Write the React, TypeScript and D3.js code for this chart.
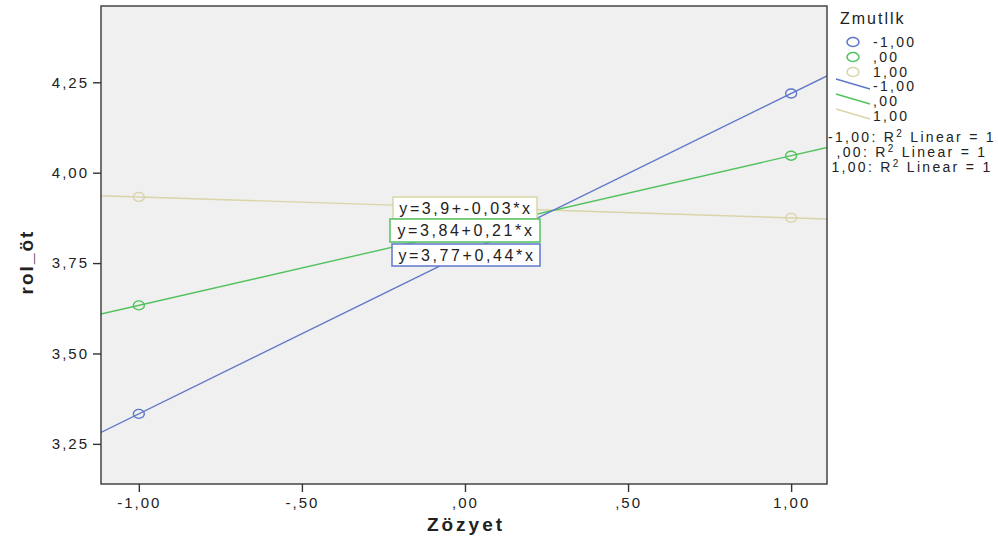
import React, { useEffect, useRef } from "react";
import * as d3 from "d3";

// group values of Zmutllk
const groups = ["-1,00", ",00", "1,00"];
const groupColors = ["#5f77c9", "#52c25e", "#d9d5a8"];
// observed means at Zözyet = -1 and 1
const xValues = [-1, 1];
const bluePoints = [3.333, 4.219];
const greenPoints = [3.633, 4.047];
const yellowPoints = [3.933, 3.875];
// fit lines (intercept, slope)
const intercepts = [3.776, 3.84, 3.904];
const slopes = [0.443, 0.207, -0.029];
const equations = ["y=3,77+0,44*x", "y=3,84+0,21*x", "y=3,9+-0,03*x"];
const xTicks = [-1, -0.5, 0, 0.5, 1];
const xTickLabels = ["-1,00", "-,50", ",00", ",50", "1,00"];
const yTicks = [3.25, 3.5, 3.75, 4.0, 4.25];
const yTickLabels = ["3,25", "3,50", "3,75", "4,00", "4,25"];

function App() {
  const svgRef = useRef<SVGSVGElement>(null);

  useEffect(() => {
    const W = 998;
    const H = 538;
    const left = 101, right = 827, top = 6, bottom = 484;
    const font = "Arial, 'Liberation Sans', sans-serif";

    const svg = d3.select(svgRef.current).attr("width", W).attr("height", H);
    svg.selectAll("*").remove();

    const x = d3.scaleLinear().domain([-1.116, 1.11]).range([left, right]);
    const y = d3.scaleLinear().domain([3.139, 4.461]).range([bottom, top]);

    svg.append("rect").attr("width", W).attr("height", H).attr("fill", "#fff");
    svg.append("rect")
      .attr("x", left).attr("y", top)
      .attr("width", right - left).attr("height", bottom - top)
      .attr("fill", "#f0f0f0");

    const plot = svg.append("g");
    plot.append("clipPath").attr("id", "clip")
      .append("rect").attr("x", left).attr("y", top)
      .attr("width", right - left).attr("height", bottom - top);

    const allPoints = [bluePoints, greenPoints, yellowPoints];
    const lines = plot.append("g").attr("clip-path", "url(#clip)");
    // draw fit lines, yellow first so blue is on top
    [2, 1, 0].forEach((i) => {
      const [x0, x1] = x.domain();
      lines.append("line")
        .attr("x1", x(x0)).attr("y1", y(intercepts[i] + slopes[i] * x0))
        .attr("x2", x(x1)).attr("y2", y(intercepts[i] + slopes[i] * x1))
        .attr("stroke", groupColors[i]).attr("stroke-width", 1.4);
      lines.selectAll(null)
        .data(xValues.map((v, k) => [v, allPoints[i][k]]))
        .join("ellipse")
        .attr("cx", (d) => x(d[0])).attr("cy", (d) => y(d[1]))
        .attr("rx", 5.5).attr("ry", 4.5)
        .attr("fill", "none").attr("stroke", groupColors[i]).attr("stroke-width", 1.4);
    });

    // frame
    svg.append("rect")
      .attr("x", left).attr("y", top)
      .attr("width", right - left).attr("height", bottom - top)
      .attr("fill", "none").attr("stroke", "#444").attr("stroke-width", 1.5);

    // axes
    const yAxis = svg.append("g").attr("transform", `translate(${left},0)`)
      .call(d3.axisLeft(y).tickValues(yTicks).tickSize(8).tickPadding(4)
        .tickFormat((d, i) => yTickLabels[i]));
    const xAxis = svg.append("g").attr("transform", `translate(0,${bottom})`)
      .call(d3.axisBottom(x).tickValues(xTicks).tickSize(8).tickPadding(5)
        .tickFormat((d, i) => xTickLabels[i]));
    [yAxis, xAxis].forEach((a) => {
      a.select(".domain").remove();
      a.selectAll("line").attr("stroke", "#333").attr("stroke-width", 1.4);
      a.selectAll("text").attr("fill", "#222").attr("font-family", font)
        .attr("font-size", 15).attr("letter-spacing", 2);
    });

    svg.append("text")
      .attr("x", (left + right) / 2 + 2).attr("y", 531)
      .attr("text-anchor", "middle").attr("font-family", font)
      .attr("font-weight", "bold").attr("font-size", 19).attr("letter-spacing", 3)
      .attr("fill", "#222")
      .text("Zözyet");
    svg.append("text")
      .attr("transform", "translate(33,262) rotate(-90)")
      .attr("text-anchor", "middle").attr("font-family", font)
      .attr("font-weight", "bold").attr("font-size", 19).attr("letter-spacing", 2)
      .attr("fill", "#222")
      .text("rol_öt");

    // equation labels
    const boxes = [
      { i: 2, x0: 393, y0: 197, w: 144, h: 22 },
      { i: 1, x0: 390, y0: 219, w: 150, h: 23 },
      { i: 0, x0: 392, y0: 244, w: 148, h: 22 },
    ];
    boxes.forEach((b) => {
      svg.append("rect")
        .attr("x", b.x0).attr("y", b.y0).attr("width", b.w).attr("height", b.h)
        .attr("fill", "#fff").attr("stroke", groupColors[b.i]).attr("stroke-width", 1.5);
      svg.append("text")
        .attr("x", b.x0 + b.w / 2 + 1).attr("y", b.y0 + b.h / 2 + 5.5)
        .attr("text-anchor", "middle").attr("font-family", font)
        .attr("font-size", 16).attr("letter-spacing", 2.6).attr("fill", "#222")
        .text(equations[b.i]);
    });

    // legend
    const lg = svg.append("g").attr("font-family", font).attr("font-size", 14)
      .attr("letter-spacing", 2.3).attr("fill", "#222");
    lg.append("text").attr("x", 840).attr("y", 24).attr("font-size", 16).attr("letter-spacing", 2)
      .text("Zmutllk");
    groups.forEach((g, i) => {
      const cy = 42 + i * 15;
      lg.append("ellipse").attr("cx", 853).attr("cy", cy).attr("rx", 6).attr("ry", 4.5)
        .attr("fill", "none").attr("stroke", groupColors[i]).attr("stroke-width", 1.5);
      lg.append("text").attr("x", 873).attr("y", cy + 5).text(g);
    });
    groups.forEach((g, i) => {
      const cy = 86 + i * 15;
      lg.append("line").attr("x1", 836).attr("y1", cy - 7).attr("x2", 870).attr("y2", cy + 3)
        .attr("stroke", groupColors[i]).attr("stroke-width", 1.4);
      lg.append("text").attr("x", 873).attr("y", cy + 5).text(g);
    });
    groups.forEach((g, i) => {
      const t = lg.append("text").attr("x", 912).attr("y", 142 + i * 15)
        .attr("text-anchor", "middle");
      t.append("tspan").text(`${g}: R`);
      t.append("tspan").attr("dy", -5).attr("font-size", 10).text("2");
      t.append("tspan").attr("dy", 5).text(" Linear = 1");
    });
  }, []);

  return <svg ref={svgRef} style={{ position: "absolute", left: 0, top: 0 }}></svg>;
}

export default App;
